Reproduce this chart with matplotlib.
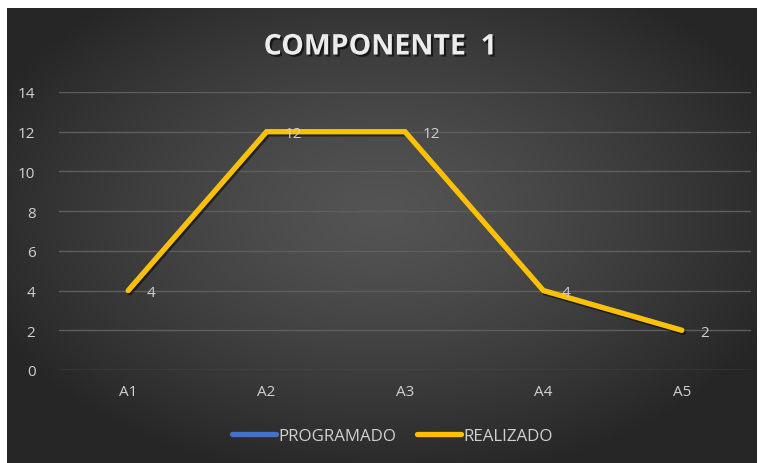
import numpy as np
import matplotlib
matplotlib.use("Agg")
import matplotlib.pyplot as plt
import matplotlib.patheffects as pe
from matplotlib.lines import Line2D

categories = ["A1", "A2", "A3", "A4", "A5"]
programado = [4, 12, 12, 4, 2]
realizado = [4, 12, 12, 4, 2]
yticks = [0, 2, 4, 6, 8, 10, 12, 14]

W, H = 760, 464
fig = plt.figure(figsize=(W / 100, H / 100), dpi=100)
fig.patch.set_facecolor("white")

# background panel with radial gradient
x0, y0, x1, y1 = 7, 9, 757, 464
bg = fig.add_axes([x0 / W, 1 - y1 / H, (x1 - x0) / W, (y1 - y0) / H])
bg.set_axis_off()
gx, gy = np.meshgrid(np.linspace(-1, 1, 400), np.linspace(-1, 1, 250))
cx, cy = 0.0, -0.1
r = np.sqrt(((gx - cx) / 1.15) ** 2 + ((gy - cy) / 1.2) ** 2)
r = np.clip(r, 0, 1)
val = 0.33 - (0.33 - 0.15) * r ** 1.3
img = np.dstack([val, val, val])
bg.imshow(img, aspect="auto", extent=[0, 1, 0, 1], interpolation="bilinear")
bg.set_xlim(0, 1)
bg.set_ylim(0, 1)

# plot area
px0, px1 = 59, 751
py_top, py_bot = 93, 371
ax = fig.add_axes([px0 / W, 1 - py_bot / H, (px1 - px0) / W, (py_bot - py_top) / H])
ax.set_facecolor("none")
xs = np.arange(len(categories))
ax.set_xlim(-0.5, len(categories) - 0.5)
ax.set_ylim(0, 14)
ax.set_yticks(yticks)
ax.set_xticks(xs)
ax.set_xticklabels(categories)
ax.grid(axis="y", color="#5e5e5e", linewidth=1.0)
ax.set_axisbelow(True)
for s in ax.spines.values():
    s.set_visible(False)
ax.tick_params(axis="both", length=0, colors="#d0d0d0", labelsize=11)
ax.tick_params(axis="y", pad=17)
ax.tick_params(axis="x", pad=10)
for lab in ax.get_xticklabels() + ax.get_yticklabels():
    lab.set_fontfamily("Open Sans")

shadow = [pe.SimpleLineShadow(offset=(1.2, -1.5), shadow_color="black", alpha=0.3), pe.Normal()]
ax.plot(xs, programado, color="#4472C4", linewidth=3.8, solid_joinstyle="miter",
        solid_capstyle="round", path_effects=shadow, zorder=3, clip_on=False)
ax.plot(xs, realizado, color="#FFC000", linewidth=3.8, solid_joinstyle="miter",
        solid_capstyle="round", path_effects=shadow, zorder=4, clip_on=False)

for x, v in zip(xs, realizado):
    ax.annotate(str(v), (x, v), xytext=(13, -1.5), textcoords="offset points",
                ha="left", va="center", color="#d0d0d0", fontsize=11,
                fontfamily="Open Sans", zorder=5)

fig.text(0.5, 1 - 48 / H, "COMPONENTE  1", ha="center", va="center",
         fontsize=20.5, fontweight="bold", color="#ececec", fontfamily="Open Sans",
         path_effects=[pe.withSimplePatchShadow(offset=(1.5, -1.5), shadow_rgbFace="black", alpha=0.6)])

handles = [Line2D([], [], color="#4472C4", linewidth=3.8, solid_capstyle="round"),
           Line2D([], [], color="#FFC000", linewidth=3.8, solid_capstyle="round")]
leg = fig.legend(handles, ["PROGRAMADO", "REALIZADO"], loc="center",
                 bbox_to_anchor=(0.516, 1 - 437 / H), ncol=2, frameon=False,
                 handlelength=2.6, handletextpad=0.15, columnspacing=1.2,
                 prop={"family": "Open Sans", "size": 12.2})
for t in leg.get_texts():
    t.set_color("#d0d0d0")

fig.savefig("out.png", dpi=100, facecolor=fig.get_facecolor())
